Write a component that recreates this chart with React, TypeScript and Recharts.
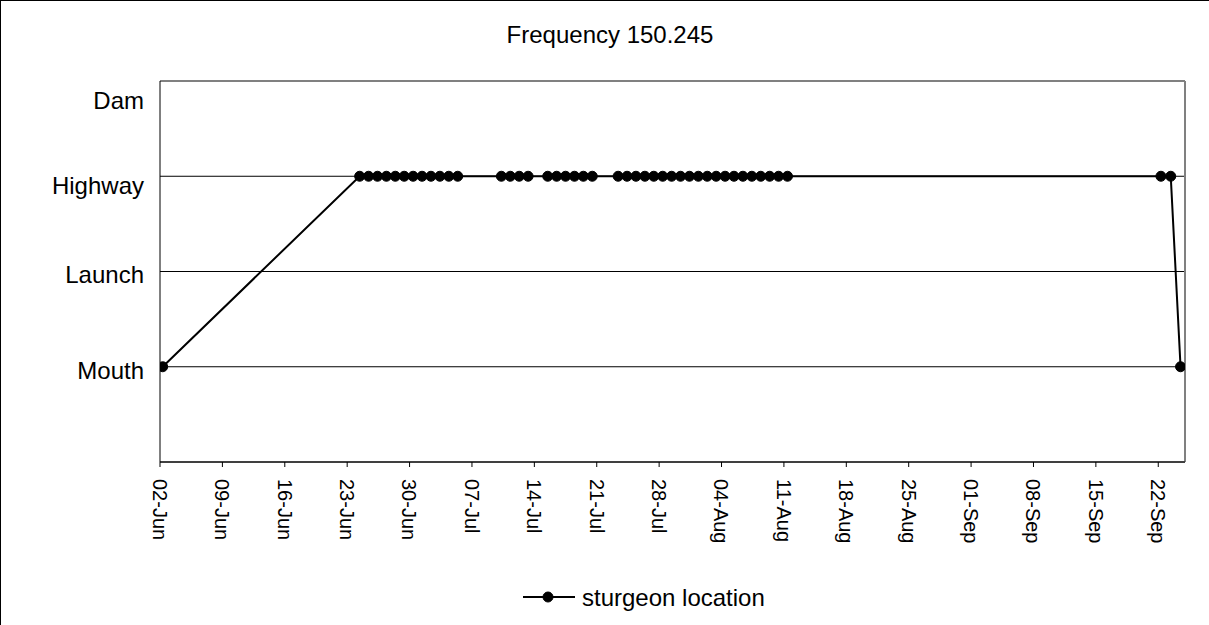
import { LineChart, Line, XAxis, YAxis, CartesianGrid, ReferenceLine } from "recharts";

// days since 02-Jun (fractional = time of day)
const dayOffsets = [
  0.3,
  22.4, 23.4, 24.4, 25.4, 26.4, 27.4, 28.4, 29.4, 30.4, 31.4, 32.4, 33.4,
  38.3, 39.3, 40.3, 41.3,
  43.5, 44.5, 45.5, 46.5, 47.5, 48.5,
  51.4, 52.4, 53.4, 54.4, 55.4, 56.4, 57.4, 58.4, 59.4, 60.4,
  61.4, 62.4, 63.4, 64.4, 65.4, 66.4, 67.4, 68.4, 69.4, 70.4,
  112.3, 113.4, 114.5,
];

// 1 = Mouth, 2 = Launch, 3 = Highway, 4 = Dam
const locations = [
  1,
  3, 3, 3, 3, 3, 3, 3, 3, 3, 3, 3, 3,
  3, 3, 3, 3,
  3, 3, 3, 3, 3, 3,
  3, 3, 3, 3, 3, 3, 3, 3, 3, 3,
  3, 3, 3, 3, 3, 3, 3, 3, 3, 3,
  3, 3, 1,
];

const xTickDays = [0, 7, 14, 21, 28, 35, 42, 49, 56, 63, 70, 77, 84, 91, 98, 105, 112];
const xTickLabels = [
  "02-Jun", "09-Jun", "16-Jun", "23-Jun", "30-Jun", "07-Jul", "14-Jul", "21-Jul", "28-Jul",
  "04-Aug", "11-Aug", "18-Aug", "25-Aug", "01-Sep", "08-Sep", "15-Sep", "22-Sep",
];

const yTickValues = [1, 2, 3, 4];
const yTickLabels = ["Mouth", "Launch", "Highway", "Dam"];

const data = dayOffsets.map((d, i) => ({ day: d, loc: locations[i] }));

const FONT = "'Liberation Sans', Arial, sans-serif";

// label nudges so they sit where the original put them
const yLabelShift: Record<number, number> = { 1: 4, 2: 3, 3: 9, 4: 19 };

function XTick({ x, y, payload }: any) {
  const idx = xTickDays.indexOf(payload.value);
  return (
    <text
      x={x}
      y={y + 10}
      transform={`rotate(90, ${x}, ${y + 10})`}
      textAnchor="start"
      dy="0.36em"
      fontSize={20}
      fontFamily={FONT}
      fill="#000"
    >
      {xTickLabels[idx]}
    </text>
  );
}

function YTick({ x, y, payload }: any) {
  const idx = yTickValues.indexOf(payload.value);
  return (
    <text
      x={x}
      y={y + (yLabelShift[payload.value] || 0) + 8.6}
      textAnchor="end"
      fontSize={24}
      fontFamily={FONT}
      fill="#000"
    >
      {yTickLabels[idx]}
    </text>
  );
}

export default function App() {
  return (
    <div
      style={{
        position: "absolute",
        left: 0,
        top: 0,
        width: 1209,
        height: 625,
        overflow: "hidden",
        background: "#fff",
      }}
    >
      <div
        style={{
          position: "absolute",
          left: 0,
          top: 0,
          width: 1300,
          height: 700,
          border: "1px solid #000",
          pointerEvents: "none",
        }}
      />
      <LineChart
        width={1209}
        height={625}
        data={data}
        margin={{ top: 81, right: 24, bottom: 0, left: 0 }}
      >
        <CartesianGrid vertical={false} stroke="#000" strokeWidth={1} />
        <XAxis
          type="number"
          dataKey="day"
          domain={[0, 115]}
          ticks={xTickDays}
          interval={0}
          height={163}
          tickSize={5}
          stroke="#000"
          tickLine={{ stroke: "#000" }}
          tick={<XTick />}
          allowDataOverflow
        />
        <YAxis
          type="number"
          domain={[0, 4]}
          ticks={yTickValues}
          interval={0}
          width={160}
          tickSize={0}
          tickMargin={16}
          stroke="#000"
          tick={<YTick />}
        />
        <ReferenceLine y={4} stroke="#808080" strokeWidth={2} />
        <ReferenceLine x={115} stroke="#808080" strokeWidth={2} />
        <Line
          type="linear"
          dataKey="loc"
          stroke="#000"
          strokeWidth={2}
          dot={{ r: 5, fill: "#000", stroke: "#000", strokeWidth: 1 }}
          isAnimationActive={false}
        />
      </LineChart>
      <svg
        width={1209}
        height={625}
        style={{ position: "absolute", left: 0, top: 0, pointerEvents: "none" }}
      >
        <text x={610} y={43} textAnchor="middle" fontSize={24} fontFamily={FONT} fill="#000">
          Frequency 150.245
        </text>
        <line x1={523} y1={597} x2={575} y2={597} stroke="#000" strokeWidth={2} />
        <circle cx={548} cy={597} r={5} fill="#000" stroke="#000" strokeWidth={1} />
        <text x={582} y={605.5} fontSize={24} fontFamily={FONT} fill="#000">
          sturgeon location
        </text>
      </svg>
    </div>
  );
}
